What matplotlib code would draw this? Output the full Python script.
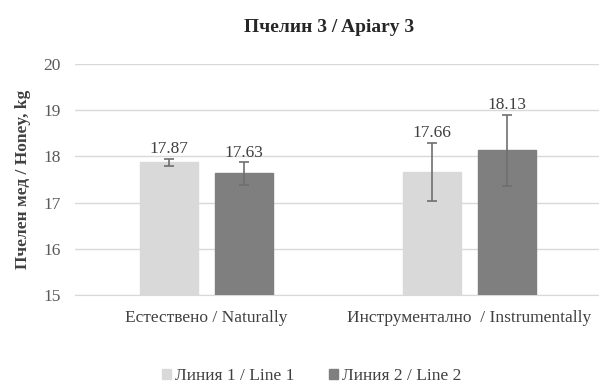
import matplotlib
matplotlib.use("Agg")
import matplotlib.pyplot as plt
import numpy as np

categories = ["Естествено / Naturally", "Инструментално  / Instrumentally"]
series_names = ["Линия 1 / Line 1", "Линия 2 / Line 2"]
line1 = [17.87, 17.66]
line2 = [17.63, 18.13]
err1 = [0.08, 0.63]
err2 = [0.24, 0.77]
yticks = [15, 16, 17, 18, 19, 20]

plt.rcParams['font.family'] = ['Liberation Serif', 'DejaVu Serif']

fig = plt.figure(figsize=(5.99, 3.83), dpi=100)
ax = fig.add_axes([75/599, 1-295/383, 526/599, (295-64)/383])

x = np.arange(len(categories))
w = 0.22
off = 0.1426
colors = ["#d9d9d9", "#7f7f7f"]
for vals, errs, o, c, name in [(line1, err1, -off, colors[0], series_names[0]),
                                (line2, err2, off, colors[1], series_names[1])]:
    ax.bar(x + o, [v - 15 for v in vals], bottom=15, width=w, color=c,
           edgecolor=c, label=name, zorder=3)
    ax.errorbar(x + o, vals, yerr=errs, fmt='none', ecolor="#6f6f6f",
                elinewidth=1.2, capsize=3.5, capthick=1.2, zorder=4)
    for xi, v, e in zip(x + o, vals, errs):
        ax.text(xi, v + e + 0.04, f"{v:.2f}", ha='center', va='bottom',
                fontsize=12.5, color="#404040", zorder=5)

ax.set_xlim(-0.5, 1.5)
ax.set_ylim(15, 20)
ax.set_yticks(yticks)
ax.set_yticklabels([str(t) for t in yticks], fontsize=12.5, color="#595959")
ax.set_xticks(x)
ax.set_xticklabels(categories, fontsize=12.5, color="#404040")
ax.tick_params(axis='y', length=0, pad=10)
ax.tick_params(axis='x', length=0, pad=11)
ax.grid(axis='y', color="#d9d9d9", linewidth=1, zorder=0)
for s in ['top', 'right', 'left']:
    ax.spines[s].set_visible(False)
ax.spines['bottom'].set_color("#d9d9d9")

ax.set_ylabel("Пчелен мед / Honey, kg", fontsize=12.5, fontweight='bold',
              color="#404040")
ax.yaxis.set_label_coords(-44/526, 0.5)
fig.text(329/599, 1-28/383, "Пчелин 3 / Apiary 3", ha='center', va='center',
         fontsize=14, fontweight='bold', color="#262626")

fig.legend(loc='center', bbox_to_anchor=(312/599, 1-376/383), ncol=2, frameon=False,
           fontsize=12.5, handlelength=0.5, handleheight=0.5, handletextpad=0.25,
           columnspacing=2.0, labelcolor="#404040")

fig.savefig("out.png", dpi=100)
